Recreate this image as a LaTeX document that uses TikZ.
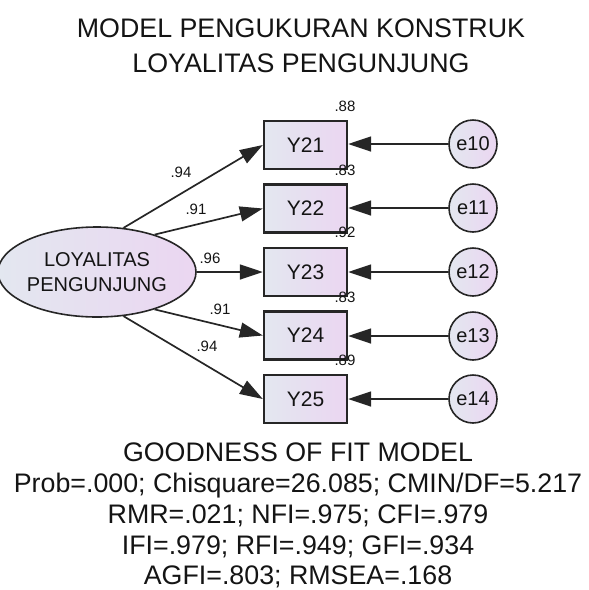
\documentclass[tikz,border=0pt]{standalone}
\usepackage{fontspec}
\setmainfont{Liberation Sans}
\usetikzlibrary{arrows.meta,shapes.geometric}
\definecolor{fillL}{HTML}{E3E7F0}
\definecolor{fillR}{HTML}{EBD6F1}
\definecolor{ln}{HTML}{262626}
\definecolor{txt}{HTML}{141414}
\begin{document}
\begin{tikzpicture}[x=1pt,y=-1pt,
  obs/.style={draw=ln, line width=2.4pt, left color=fillL, right color=fillR, minimum width=83pt, minimum height=48pt, inner sep=0pt, text=txt, font=\fontsize{21}{25}\selectfont},
  err/.style={circle, draw=ln, line width=1.6pt, left color=fillL, right color=fillR, minimum size=48pt, inner sep=0pt, text=txt, font=\fontsize{20}{24}\selectfont},
  lat/.style={ellipse, draw=ln, line width=1.6pt, left color=fillL, right color=fillR, minimum width=168pt, minimum height=90pt, inner sep=0pt, align=center, text=txt, font=\fontsize{20}{25}\selectfont},
  reg/.style={draw=ln, line width=1.7pt, -{Triangle[length=23pt,width=15pt]}},
  coef/.style={font=\fontsize{15}{15}\selectfont, inner sep=0pt, text=txt},
  big/.style={font=\fontsize{26.8}{32}\selectfont, inner sep=0pt, anchor=base, text=txt}
]
\useasboundingbox (0,0) rectangle (589,590);

% title
\node[big] (t1) at (301,37) {MODEL PENGUKURAN KONSTRUK};
\node[big] (t2) at (301,72) {LOYALITAS PENGUNJUNG};

% latent
\node[lat] (L) at (97,272) {LOYALITAS\\PENGUNJUNG};

% observed
\node[obs] (Y21) at (305.5,145) {Y21};
\node[obs] (Y22) at (305.5,208.5) {Y22};
\node[obs] (Y23) at (305.5,272) {Y23};
\node[obs] (Y24) at (305.5,335.5) {Y24};
\node[obs] (Y25) at (305.5,399) {Y25};

% errors
\node[err] (e10) at (473,144) {e10};
\node[err] (e11) at (473,208) {e11};
\node[err] (e12) at (473,272) {e12};
\node[err] (e13) at (473,336) {e13};
\node[err] (e14) at (473,399) {e14};

% paths
\draw[reg] (L.59) -- (Y21.west);
\draw[reg] (L.33) -- (Y22.west);
\draw[reg] (L.east) -- (Y23.west);
\draw[reg] (L.-33) -- (Y24.west);
\draw[reg] (L.-59) -- (Y25.west);

\draw[reg] (e10.west) -- (Y21.east |- e10.west);
\draw[reg] (e11.west) -- (Y22.east |- e11.west);
\draw[reg] (e12.west) -- (Y23.east |- e12.west);
\draw[reg] (e13.west) -- (Y24.east |- e13.west);
\draw[reg] (e14.west) -- (Y25.east |- e14.west);

% loadings
\node[coef] (l1) at (181,172) {.94};
\node[coef] (l2) at (196,209) {.91};
\node[coef] (l3) at (210,258) {.96};
\node[coef] (l4) at (220,309) {.91};
\node[coef] (l5) at (207,346) {.94};

% squared multiple correlations
\node[coef] (r1) at (345,106) {.88};
\node[coef] (r2) at (345,170) {.83};
\node[coef] (r3) at (345,232) {.92};
\node[coef] (r4) at (345,297) {.83};
\node[coef] (r5) at (345,360) {.89};

% fit
\node[big] (g1) at (298,461) {GOODNESS OF FIT MODEL};
\node[big] (g2) at (298,492) {Prob=.000; Chisquare=26.085; CMIN/DF=5.217};
\node[big] (g3) at (298,523) {RMR=.021; NFI=.975; CFI=.979};
\node[big] (g4) at (298,554) {IFI=.979; RFI=.949; GFI=.934};
\node[big] (g5) at (298,584) {AGFI=.803; RMSEA=.168};
\end{tikzpicture}
\end{document}
